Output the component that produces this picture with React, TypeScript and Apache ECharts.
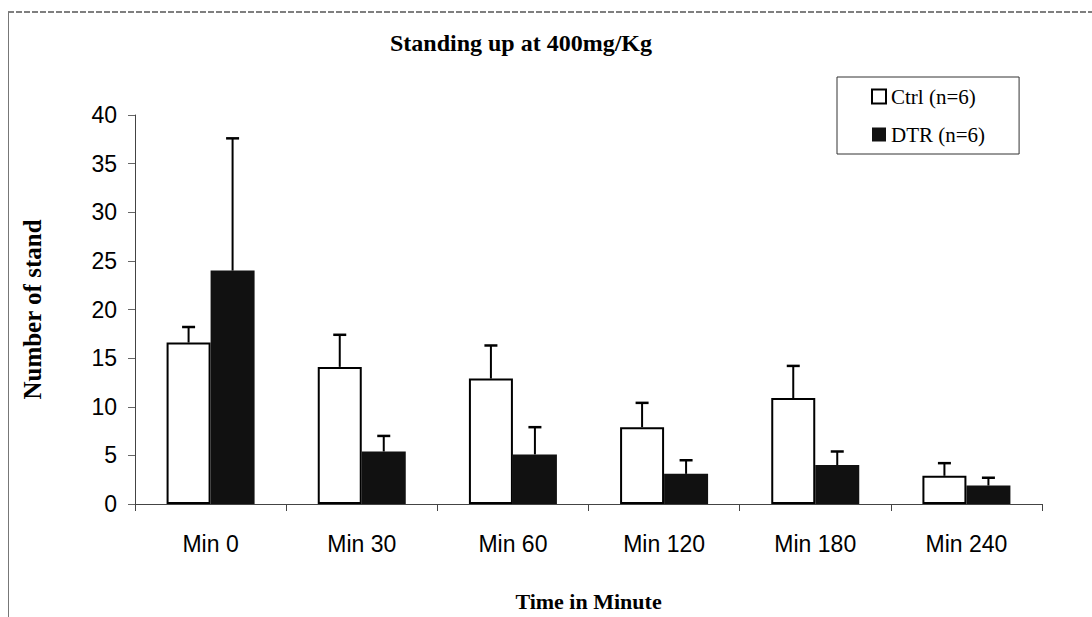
import React, { useEffect, useRef } from "react";
import * as echarts from "echarts";

const categories = ["Min 0", "Min 30", "Min 60", "Min 120", "Min 180", "Min 240"];
const ctrlMean = [16.6, 14.1, 12.9, 7.9, 10.9, 2.9];
const ctrlSd = [1.6, 3.3, 3.4, 2.5, 3.3, 1.3];
const dtrMean = [24.0, 5.4, 5.1, 3.1, 4.0, 1.9];
const dtrSd = [13.6, 1.6, 2.8, 1.4, 1.4, 0.8];
const yTicks = [0, 5, 10, 15, 20, 25, 30, 35, 40];
const ctrlName = "Ctrl (n=6)";
const dtrName = "DTR (n=6)";

const BAR_W = 44;
const SERIF = "'Liberation Serif', 'Times New Roman', serif";
const SANS = "'Liberation Sans', Arial, sans-serif";

function errorSeries(name: string, mean: number[], sd: number[], offset: number) {
  return {
    type: "custom",
    name: name + " err",
    coordinateSystem: "cartesian2d",
    z: 5,
    silent: true,
    data: mean.map((m, i) => [i, m, m + sd[i]]),
    encode: { x: 0, y: [1, 2] },
    renderItem: (params: any, api: any) => {
      const i = api.value(0);
      const base = api.coord([i, api.value(1)]);
      const top = api.coord([i, api.value(2)]);
      const x = base[0] + offset;
      const cap = 6.5;
      return {
        type: "group",
        children: [
          { type: "line", shape: { x1: x, y1: base[1], x2: x, y2: top[1] }, style: { stroke: "#000", lineWidth: 2 } },
          { type: "line", shape: { x1: x - cap, y1: top[1], x2: x + cap, y2: top[1] }, style: { stroke: "#000", lineWidth: 2.5 } },
        ],
      };
    },
  };
}

export default function App() {
  const ref = useRef<HTMLDivElement>(null);
  useEffect(() => {
    if (!ref.current) return;
    const chart = echarts.init(ref.current, null, { renderer: "svg" });
    chart.setOption({
      animation: false,
      backgroundColor: "#fff",
      title: {
        text: "Standing up at 400mg/Kg",
        left: 521,
        textAlign: "center",
        top: 31,
        padding: 0,
        textStyle: { fontFamily: SERIF, fontWeight: "bold", fontSize: 24, color: "#000" },
      },
      legend: {
        orient: "vertical",
        left: 837,
        top: 77,
        padding: [9, 34, 9, 34],
        itemGap: 17,
        itemWidth: 14,
        itemHeight: 14,
        borderColor: "#333",
        borderWidth: 1,
        icon: "rect",
        textStyle: { fontFamily: SERIF, fontSize: 21, color: "#000" },
        data: [
          { name: ctrlName, itemStyle: { color: "#fff", borderColor: "#000", borderWidth: 2 } },
          { name: dtrName, itemStyle: { color: "#111" } },
        ],
      },
      grid: { left: 135, right: 50, top: 115, bottom: 103 },
      xAxis: {
        type: "category",
        data: categories,
        name: "Time in Minute",
        nameLocation: "middle",
        nameGap: 86,
        nameTextStyle: { fontFamily: SERIF, fontWeight: "bold", fontSize: 22, color: "#000" },
        axisLine: { lineStyle: { color: "#444", width: 1 } },
        axisTick: { show: true, length: 7, lineStyle: { color: "#444" } },
        axisLabel: { fontFamily: SANS, fontSize: 23, color: "#000", margin: 28 },
      },
      yAxis: {
        type: "value",
        min: yTicks[0],
        max: yTicks[yTicks.length - 1],
        interval: 5,
        name: "Number of stand",
        nameLocation: "middle",
        nameRotate: 90,
        nameGap: 90,
        nameTextStyle: { fontFamily: SERIF, fontWeight: "bold", fontSize: 25, color: "#000" },
        axisLine: { show: true, lineStyle: { color: "#444", width: 1 } },
        axisTick: { show: true, length: 7, lineStyle: { color: "#666" } },
        axisLabel: { fontFamily: SANS, fontSize: 23, color: "#000", margin: 18 },
        splitLine: { show: false },
      },
      graphic: [
        {
          type: "line",
          shape: { x1: 8, y1: 12, x2: 1092, y2: 12 },
          style: { stroke: "#555", lineWidth: 1.5, lineDash: [6, 2] },
          silent: true,
        },
        {
          type: "line",
          shape: { x1: 8.5, y1: 12, x2: 8.5, y2: 617 },
          style: { stroke: "#777", lineWidth: 1 },
          silent: true,
        },
      ],
      series: [
        {
          type: "bar",
          name: ctrlName,
          data: ctrlMean,
          barWidth: BAR_W,
          barGap: "0%",
          itemStyle: { color: "#fff", borderColor: "#000", borderWidth: 2 },
        },
        {
          type: "bar",
          name: dtrName,
          data: dtrMean,
          barWidth: BAR_W,
          barGap: "0%",
          itemStyle: { color: "#111" },
        },
        errorSeries(ctrlName, ctrlMean, ctrlSd, -BAR_W / 2),
        errorSeries(dtrName, dtrMean, dtrSd, BAR_W / 2),
      ],
    });
    return () => chart.dispose();
  }, []);
  return (
    <div
      ref={ref}
      style={{ position: "absolute", left: 0, top: 0, width: 1092, height: 617, background: "#fff" }}
    />
  );
}
